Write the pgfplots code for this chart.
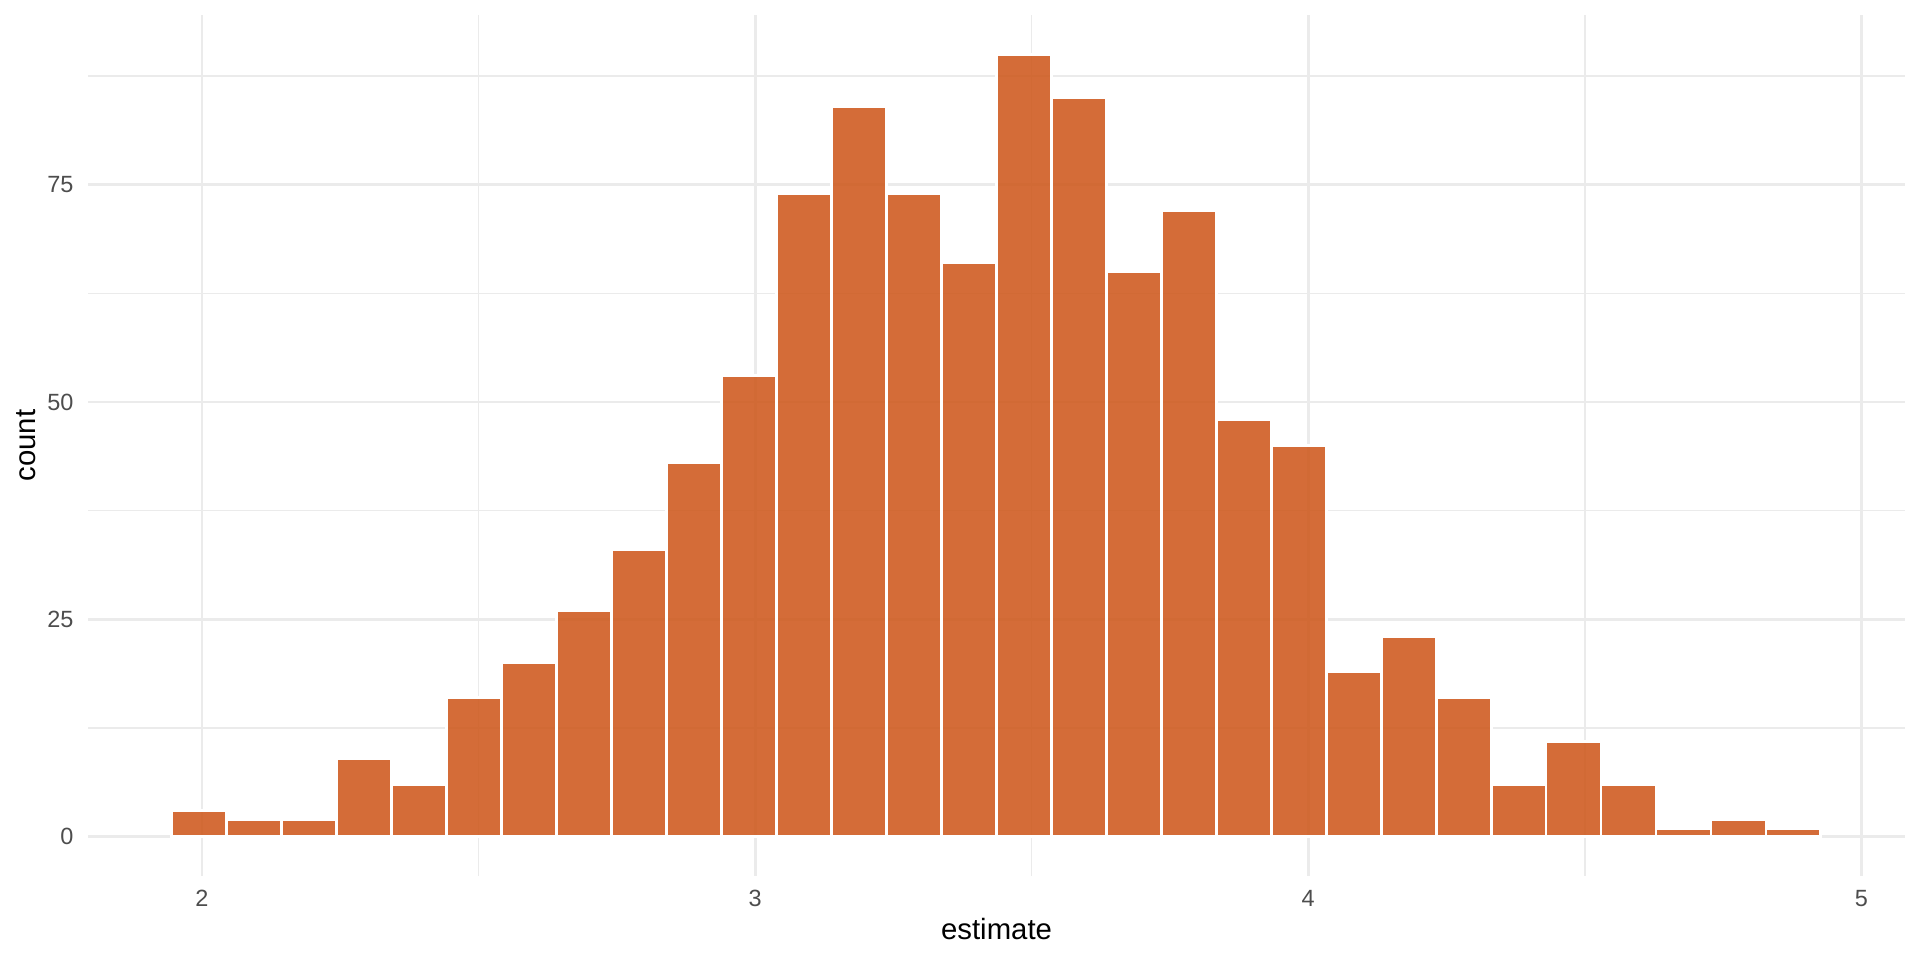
\documentclass[border=0pt]{standalone}
\usepackage{pgfplots}
\pgfplotsset{compat=1.18}
\usepackage{fontspec}
\setmainfont{Liberation Sans}
\definecolor{gridc}{HTML}{EBEBEB}
\definecolor{ticktxt}{HTML}{4D4D4D}
\definecolor{barfill}{RGB}{207,92,34}
\begin{document}
\begin{tikzpicture}
\path[use as bounding box] (0,0) rectangle (720pt,360pt);
\begin{axis}[
  scale only axis,
  width=681.4pt, height=322.9pt,
  at={(33pt,31.5pt)}, anchor=south west,
  xmin=1.7939, xmax=5.079, ymin=-4.5, ymax=94.5,
  xtick={2,3,4,5}, minor xtick={2.5,3.5,4.5},
  ytick={0,25,50,75}, minor ytick={12.5,37.5,62.5,87.5},
  grid=both,
  major grid style={color=gridc, line width=1.07pt},
  minor grid style={color=gridc, line width=0.53pt},
  axis line style={draw=none},
  major tick length=0pt, minor tick length=0pt,
  tick style={draw=none},
  /pgf/number format/assume math mode=true,
  ticklabel style={font=\fontsize{8.8}{10}\selectfont, text=ticktxt, inner sep=0pt},
  xticklabel style={anchor=north, yshift=-5pt},
  yticklabel style={anchor=east, xshift=-5.25pt},
  xlabel={estimate}, ylabel={count},
  label style={font=\fontsize{11}{13}\selectfont, text=black, inner sep=0pt},
  xlabel style={at={(axis description cs:0.5,-0.0743)}, anchor=base},
  ylabel style={at={(axis description cs:-0.0288,0.5)}, anchor=base, rotate=0},
]
\addplot[ybar interval, draw=white, line width=1.07pt, fill=barfill, fill opacity=0.9, draw opacity=1]
coordinates {
(1.9454,3) (2.0448,2) (2.1442,2) (2.2435,9) (2.3429,6)
(2.4423,16) (2.5417,20) (2.6411,26) (2.7404,33) (2.8398,43)
(2.9392,53) (3.0386,74) (3.1380,84) (3.2373,74) (3.3367,66)
(3.4361,90) (3.5355,85) (3.6349,65) (3.7342,72) (3.8336,48)
(3.9330,45) (4.0324,19) (4.1318,23) (4.2311,16) (4.3305,6)
(4.4299,11) (4.5293,6) (4.6287,1) (4.7280,2) (4.8274,1)
(4.9268,0)
};
\end{axis}
\end{tikzpicture}
\end{document}
